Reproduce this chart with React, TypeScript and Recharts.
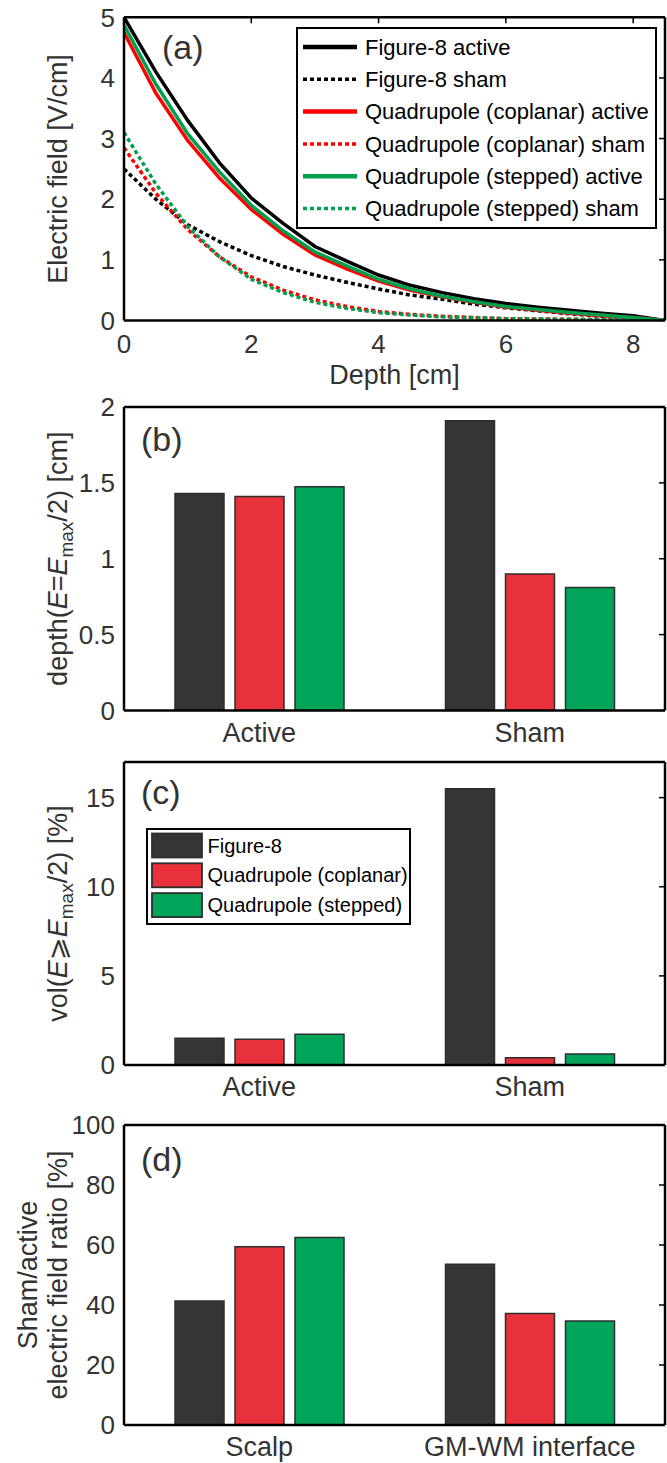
import React from 'react';
import { LineChart, Line, XAxis, YAxis, BarChart, Bar, Legend } from 'recharts';

// ---------- data ----------
const depthCm = [0, 0.5, 1, 1.5, 2, 2.5, 3, 3.5, 4, 4.5, 5, 5.5, 6, 6.5, 7, 7.5, 8, 8.5];
const fig8Active = [5.0, 4.1, 3.3, 2.6, 2.02, 1.6, 1.22, 0.98, 0.75, 0.58, 0.46, 0.36, 0.28, 0.22, 0.17, 0.12, 0.08, 0.0];
const fig8Sham = [2.5, 2.0, 1.58, 1.3, 1.07, 0.89, 0.75, 0.63, 0.52, 0.42, 0.35, 0.27, 0.21, 0.16, 0.11, 0.07, 0.04, 0.0];
const quadCopActive = [4.75, 3.75, 2.97, 2.35, 1.83, 1.42, 1.08, 0.85, 0.65, 0.5, 0.39, 0.3, 0.22, 0.17, 0.12, 0.08, 0.05, 0.0];
const quadCopSham = [2.85, 2.1, 1.5, 1.05, 0.72, 0.5, 0.34, 0.23, 0.15, 0.1, 0.07, 0.05, 0.03, 0.025, 0.02, 0.015, 0.01, 0.0];
const quadStepActive = [4.87, 3.9, 3.08, 2.45, 1.9, 1.48, 1.13, 0.9, 0.68, 0.52, 0.4, 0.31, 0.23, 0.18, 0.13, 0.09, 0.05, 0.0];
const quadStepSham = [3.1, 2.25, 1.55, 1.05, 0.68, 0.46, 0.3, 0.2, 0.13, 0.09, 0.06, 0.045, 0.03, 0.025, 0.02, 0.015, 0.01, 0.0];
const depthTicks = [0, 2, 4, 6, 8];
const fieldTicks = [0, 1, 2, 3, 4, 5];

const conditions = ['Active', 'Sham'];
const halfDepthFig8 = [1.43, 1.91];
const halfDepthCop = [1.41, 0.9];
const halfDepthStep = [1.475, 0.81];
const halfDepthTicks = [0, 0.5, 1, 1.5, 2];

const halfVolFig8 = [1.5, 15.5];
const halfVolCop = [1.45, 0.4];
const halfVolStep = [1.72, 0.62];
const halfVolTicks = [0, 5, 10, 15];

const regions = ['Scalp', 'GM-WM interface'];
const ratioFig8 = [41.3, 53.6];
const ratioCop = [59.4, 37.2];
const ratioStep = [62.5, 34.7];
const ratioTicks = [0, 20, 40, 60, 80, 100];

const coilNames = ['Figure-8', 'Quadrupole (coplanar)', 'Quadrupole (stepped)'];

// ---------- styles ----------
const FONT = "'Liberation Sans', Arial, Helvetica, sans-serif";
const TXT = '#333333';
const LINE_COLORS = ['#000000', '#ff0000', '#009e4f'];
const BAR_COLORS = ['#363435', '#e8313a', '#00a55a'];
const BAR_STROKE = '#2e2e2e';
const AXIS = { stroke: '#000', strokeWidth: 2.5 };
const TICKLINE = { stroke: '#000', strokeWidth: 1.5 };
const TICK = { fill: TXT, fontSize: 26, fontFamily: FONT };
const W = 667;

const lineKeys = ['f8a', 'f8s', 'qca', 'qcs', 'qsa', 'qss'];
const lineNames = [
  'Figure-8 active',
  'Figure-8 sham',
  'Quadrupole (coplanar) active',
  'Quadrupole (coplanar) sham',
  'Quadrupole (stepped) active',
  'Quadrupole (stepped) sham',
];
const lineSeriesValues = [fig8Active, fig8Sham, quadCopActive, quadCopSham, quadStepActive, quadStepSham];

const lineData = depthCm.map((d, i) => {
  const row: any = { depth: d };
  lineKeys.forEach((k, j) => {
    row[k] = lineSeriesValues[j][i];
  });
  return row;
});

const makeBarData = (cats: string[], a: number[], b: number[], c: number[]) =>
  cats.map((cat, i) => ({ cat, s0: a[i], s1: b[i], s2: c[i] }));

const dataB = makeBarData(conditions, halfDepthFig8, halfDepthCop, halfDepthStep);
const dataC = makeBarData(conditions, halfVolFig8, halfVolCop, halfVolStep);
const dataD = makeBarData(regions, ratioFig8, ratioCop, ratioStep);

// ---------- label helpers ----------
const yLabel = (lines: React.ReactNode[], xs: number[]) => (props: any) => {
  const vb = props.viewBox || {};
  const cy = (vb.y ?? 0) + (vb.height ?? 0) / 2;
  return (
    <g>
      {lines.map((ln, i) => (
        <text
          key={i}
          x={xs[i]}
          y={cy}
          transform={`rotate(-90 ${xs[i]} ${cy})`}
          textAnchor="middle"
          fontSize={27}
          fontFamily={FONT}
          fill={TXT}
        >
          {ln}
        </text>
      ))}
    </g>
  );
};

const xLabel = (txt: string, dy: number) => (props: any) => {
  const vb = props.viewBox || {};
  return (
    <text
      x={(vb.x ?? 0) + (vb.width ?? 0) / 2}
      y={(vb.y ?? 0) + dy}
      textAnchor="middle"
      fontSize={27}
      fontFamily={FONT}
      fill={TXT}
    >
      {txt}
    </text>
  );
};

const PanelLetter = ({ x, y, t }: { x: number; y: number; t: string }) => (
  <text x={x} y={y} fontSize={34} fontFamily={FONT} fill={TXT}>
    {t}
  </text>
);

const LegendA = () => {
  const w = 361;
  const h = 202;
  return (
    <svg width={w} height={h} style={{ display: 'block' }}>
      <rect x={1} y={1} width={w - 2} height={h - 2} fill="#fff" stroke="#000" strokeWidth={2} />
      {lineNames.map((n, i) => {
        const cy = 20 + i * 32.3;
        const dotted = i % 2 === 1;
        return (
          <g key={n}>
            <line
              x1={7}
              x2={61}
              y1={cy}
              y2={cy}
              stroke={LINE_COLORS[Math.floor(i / 2)]}
              strokeWidth={dotted ? 3.5 : 4.5}
              strokeDasharray={dotted ? '4 3' : undefined}
            />
            <text x={69} y={cy + 7.8} fontSize={22} fontFamily={FONT} fill="#000">
              {n}
            </text>
          </g>
        );
      })}
    </svg>
  );
};

const LegendC = () => {
  const w = 265;
  const h = 97;
  return (
    <svg width={w} height={h} style={{ display: 'block' }}>
      <rect x={1} y={1} width={w - 2} height={h - 2} fill="#fff" stroke="#000" strokeWidth={2} />
      {coilNames.map((n, i) => {
        const cy = 17.5 + i * 29.8;
        return (
          <g key={n}>
            <rect x={6} y={cy - 12} width={50} height={24} fill={BAR_COLORS[i]} stroke={BAR_STROKE} strokeWidth={1.8} />
            <text x={61.5} y={cy + 7} fontSize={20} fontFamily={FONT} fill="#000">
              {n}
            </text>
          </g>
        );
      })}
    </svg>
  );
};

// ---------- bar panel ----------
type BarPanelProps = {
  data: any[];
  height: number;
  top: number;
  xHeight: number;
  domain: [number, number];
  ticks: number[];
  label: any;
  letter: string;
  letterY: number;
  legendTop?: number;
};

const BarPanel = ({ data, height, top, xHeight, domain, ticks, label, letter, letterY, legendTop }: BarPanelProps) => (
  <BarChart
    width={W}
    height={height}
    data={data}
    margin={{ top, right: 2, left: 0, bottom: 0 }}
    barSize={49}
    barGap={11}
  >
    <XAxis
      xAxisId="b"
      dataKey="cat"
      type="category"
      height={xHeight}
      axisLine={AXIS}
      tickLine={false}
      tickSize={0}
      tickMargin={12}
      tick={{ ...TICK, fontSize: 27 }}
      interval={0}
    />
    <XAxis xAxisId="t" dataKey="cat" type="category" orientation="top" mirror height={1} axisLine={AXIS} tick={false} />
    <YAxis
      yAxisId="l"
      width={124}
      domain={domain}
      ticks={ticks}
      interval={0}
      axisLine={AXIS}
      tickLine={false}
      tickSize={0}
      tickMargin={9}
      tick={TICK}
      label={{ content: label }}
      allowDataOverflow
    />
    <YAxis
      yAxisId="r"
      orientation="right"
      mirror
      width={1}
      domain={domain}
      ticks={ticks}
      interval={0}
      axisLine={AXIS}
      tickLine={TICKLINE}
      tickSize={6}
      tickFormatter={() => ''}
      allowDataOverflow
    />
    {[0, 1, 2].map((i) => (
      <Bar
        key={i}
        xAxisId="b"
        yAxisId="l"
        dataKey={`s${i}`}
        name={coilNames[i]}
        fill={BAR_COLORS[i]}
        stroke={BAR_STROKE}
        strokeWidth={1.5}
        isAnimationActive={false}
      />
    ))}
    {legendTop !== undefined ? (
      <Legend
        layout="vertical"
        align="center"
        verticalAlign="middle"
        wrapperStyle={{ left: 145.5, top: legendTop, width: 265, height: 97 }}
        content={() => <LegendC />}
      />
    ) : null}
    <PanelLetter x={141} y={letterY} t={letter} />
  </BarChart>
);

const labelB = yLabel(
  [
    <>
      depth(<tspan fontStyle="italic">E</tspan>=<tspan fontStyle="italic">E</tspan>
      <tspan fontSize={19} dy={6}>
        max
      </tspan>
      <tspan dy={-6}>/2) [cm]</tspan>
    </>,
  ],
  [67]
);

const labelC = yLabel(
  [
    <>
      vol(<tspan fontStyle="italic">E</tspan>
      {'\u2A7E'}
      <tspan fontStyle="italic">E</tspan>
      <tspan fontSize={19} dy={6}>
        max
      </tspan>
      <tspan dy={-6}>/2) [%]</tspan>
    </>,
  ],
  [67]
);

const labelD = yLabel(['Sham/active', 'electric field ratio [%]'], [37, 67]);

export default function App() {
  return (
    <div style={{ position: 'absolute', left: 0, top: 0, width: W, height: 1463, background: '#fff' }}>
      {/* (a) */}
      <div style={{ position: 'absolute', left: 0, top: 0 }}>
        <LineChart width={W} height={395} data={lineData} margin={{ top: 17.3, right: 2, left: 0, bottom: 0 }}>
          <XAxis
            xAxisId="b"
            dataKey="depth"
            type="number"
            domain={[0, 8.5]}
            ticks={depthTicks}
            interval={0}
            height={74.5}
            axisLine={AXIS}
            tickLine={false}
            tickSize={0}
            tickMargin={14.5}
            tick={TICK}
            label={{ content: xLabel('Depth [cm]', 63.8) }}
            allowDataOverflow
          />
          <XAxis
            xAxisId="t"
            dataKey="depth"
            type="number"
            orientation="top"
            mirror
            height={1}
            domain={[0, 8.5]}
            ticks={depthTicks}
            interval={0}
            axisLine={AXIS}
            tickLine={TICKLINE}
            tickSize={6}
            tickFormatter={() => ''}
            allowDataOverflow
          />
          <YAxis
            yAxisId="l"
            width={124}
            domain={[0, 5]}
            ticks={fieldTicks}
            interval={0}
            axisLine={AXIS}
            tickLine={false}
            tickSize={0}
            tickMargin={9}
            tick={TICK}
            label={{ content: yLabel(['Electric field [V/cm]'], [67]) }}
            allowDataOverflow
          />
          <YAxis
            yAxisId="r"
            orientation="right"
            mirror
            width={1}
            domain={[0, 5]}
            ticks={fieldTicks}
            interval={0}
            axisLine={AXIS}
            tickLine={TICKLINE}
            tickSize={6}
            tickFormatter={() => ''}
            allowDataOverflow
          />
          {lineKeys.map((k, i) => {
            const dotted = i % 2 === 1;
            return (
              <Line
                key={k}
                xAxisId="b"
                yAxisId="l"
                type="linear"
                dataKey={k}
                name={lineNames[i]}
                stroke={LINE_COLORS[Math.floor(i / 2)]}
                strokeWidth={3.5}
                strokeDasharray={dotted ? '4 3' : undefined}
                dot={false}
                activeDot={false}
                isAnimationActive={false}
              />
            );
          })}
          <Legend
            layout="vertical"
            align="center"
            verticalAlign="middle"
            wrapperStyle={{ left: 296, top: 26.7, width: 361, height: 202 }}
            content={() => <LegendA />}
          />
          <PanelLetter x={162} y={58.5} t="(a)" />
        </LineChart>
      </div>
      {/* (b) */}
      <div style={{ position: 'absolute', left: 0, top: 385 }}>
        <BarPanel
          data={dataB}
          height={365}
          top={22}
          xHeight={39.5}
          domain={[0, 2]}
          ticks={halfDepthTicks}
          label={labelB}
          letter="(b)"
          letterY={65.5}
        />
      </div>
      {/* (c) */}
      <div style={{ position: 'absolute', left: 0, top: 740 }}>
        <BarPanel
          data={dataC}
          height={365}
          top={22}
          xHeight={40}
          domain={[0, 17]}
          ticks={halfVolTicks}
          label={labelC}
          letter="(c)"
          letterY={64}
          legendTop={88.3}
        />
      </div>
      {/* (d) */}
      <div style={{ position: 'absolute', left: 0, top: 1095 }}>
        <BarPanel
          data={dataD}
          height={368}
          top={30}
          xHeight={38}
          domain={[0, 100]}
          ticks={ratioTicks}
          label={labelD}
          letter="(d)"
          letterY={76}
        />
      </div>
    </div>
  );
}
